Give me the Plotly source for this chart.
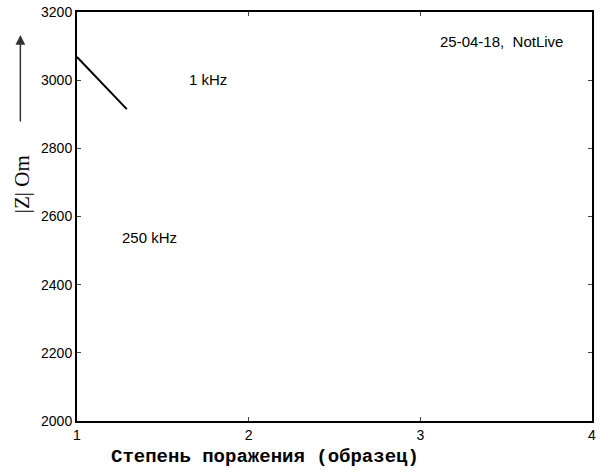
import plotly.graph_objects as go

x_vals = [1.0, 1.29]
z_vals = [3068, 2915]

x_ticks = [1, 2, 3, 4]
y_ticks = [2000, 2200, 2400, 2600, 2800, 3000, 3200]

labels = ["1 kHz", "250 kHz", "25-04-18,  NotLive"]
label_x = [1.763, 1.42, 3.47]
label_y = [3001, 2539, 3113]

fig = go.Figure()
fig.add_trace(go.Scatter(x=x_vals, y=z_vals, mode="lines",
                         line=dict(color="black", width=2), showlegend=False))

for t, lx, ly in zip(labels, label_x, label_y):
    fig.add_annotation(x=lx, y=ly, text=t, showarrow=False,
                       xanchor="center", yanchor="middle",
                       font=dict(family="Liberation Sans, Arial", size=15, color="black"))

# y-axis label and arrow
fig.add_annotation(xref="paper", yref="paper", x=-0.108, y=0.58, text="|Z| Om",
                   textangle=-90, showarrow=False, xanchor="center", yanchor="middle",
                   font=dict(family="Liberation Serif, Times New Roman", size=21, color="black"))
fig.add_annotation(xref="paper", yref="paper", x=-0.110, y=0.944, ax=0, ay=88,
                   axref="pixel", ayref="pixel", text="", showarrow=True,
                   arrowhead=2, arrowsize=1.3, arrowwidth=1.5, arrowcolor="#333333")

# x-axis title (placed left of centre as in the reference)
fig.add_annotation(xref="paper", yref="paper", x=0.365, y=-0.088,
                   text="<b>Степень поражения (образец)</b>",
                   showarrow=False, xanchor="center", yanchor="middle",
                   font=dict(family="Liberation Mono, Courier New", size=19, color="black"))

fig.update_xaxes(range=[1, 4], tickvals=x_ticks, ticks="inside", ticklen=4,
                 showline=True, linecolor="black", linewidth=2, mirror="ticks",
                 showgrid=False, zeroline=False,
                 tickfont=dict(family="Liberation Sans, Arial", size=14, color="black"))
fig.update_yaxes(range=[2000, 3200], tickvals=y_ticks, ticks="inside", ticklen=4,
                 showline=True, linecolor="black", linewidth=2, mirror="ticks",
                 showgrid=False, zeroline=False,
                 tickfont=dict(family="Liberation Sans, Arial", size=14, color="black"))

fig.update_layout(width=600, height=474, margin=dict(l=77, r=4, t=11, b=53),
                  plot_bgcolor="white", paper_bgcolor="white")
fig.write_html("out.html")
